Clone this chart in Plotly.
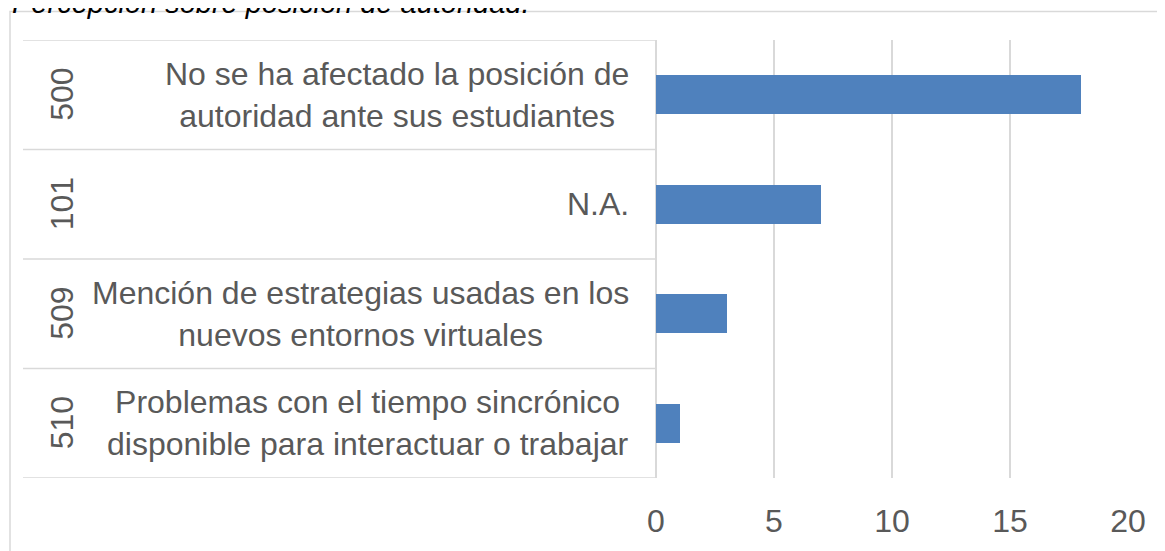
import plotly.graph_objects as go

# ---- data ----
title_text = "Percepción sobre posición de autoridad."
codes = ["500", "101", "509", "510"]
descriptions = [
    "No se ha afectado la posición de<br>autoridad ante sus estudiantes",
    "N.A.",
    "Mención de estrategias usadas en los<br>nuevos entornos virtuales",
    "Problemas con el tiempo sincrónico<br>disponible para interactuar o trabajar",
]
values = [18, 7, 3, 1]
tick_vals = [0, 5, 10, 15, 20]

# ---- layout geometry (window pixels; page body has an 8px default margin) ----
OFF = 8
WIN_W, WIN_H = 1165, 551
W, H = WIN_W - OFF, WIN_H - OFF
PL, PR, PT, PB = 656, 1128, 40, 486  # plot area in window pixels
pw, ph = PR - PL, PB - PT


def px_x(p):
    return (p - PL) / pw


def px_y(p):
    return (PB - p) / ph


FONT = "Liberation Sans, Arial, sans-serif"
TXT = "#595959"
GRID = "#d9d9d9"

fig = go.Figure(
    go.Bar(
        x=values,
        y=codes,
        orientation="h",
        width=0.36,
        marker=dict(color="#4F81BD", line=dict(width=0)),
        hoverinfo="x+y",
    )
)

shapes = []
# separators of the category label area
for i in range(len(codes) + 1):
    shapes.append(
        dict(
            type="line", xref="paper", yref="y",
            x0=px_x(23), x1=0, y0=i - 0.5, y1=i - 0.5,
            line=dict(color=GRID, width=1.5),
        )
    )
# outer chart border
shapes.append(
    dict(
        type="rect", xref="paper", yref="paper",
        x0=px_x(10), x1=px_x(1190), y0=px_y(575), y1=px_y(11),
        line=dict(color=GRID, width=1.5), fillcolor="rgba(0,0,0,0)",
        layer="below",
    )
)

annotations = [
    dict(
        text="<i>" + title_text + "</i>", xref="paper", yref="paper",
        x=px_x(10), y=px_y(21), xanchor="left", yanchor="bottom",
        showarrow=False, font=dict(family=FONT, size=29, color="#000000"),
    )
]
for i, (c, d) in enumerate(zip(codes, descriptions)):
    annotations.append(
        dict(
            text=c, xref="paper", yref="y", x=px_x(62), y=i,
            textangle=-90, showarrow=False, xanchor="center", yanchor="middle",
            font=dict(family=FONT, size=32, color=TXT),
        )
    )
    annotations.append(
        dict(
            text=d, xref="x", yref="y", x=0, y=i, xshift=-25,
            xanchor="right", yanchor="middle", align="center", showarrow=False,
            font=dict(family=FONT, size=32, color=TXT),
        )
    )

fig.update_layout(
    width=W, height=H,
    margin=dict(l=PL - OFF, r=WIN_W - PR, t=PT - OFF, b=WIN_H - PB, pad=0),
    paper_bgcolor="white", plot_bgcolor="white",
    showlegend=False,
    bargap=0,
    xaxis=dict(
        range=[0, 20], tickvals=tick_vals, showgrid=True, gridcolor=GRID,
        gridwidth=1.5, zeroline=True, zerolinecolor=GRID, zerolinewidth=1.5,
        showline=False, ticks="", ticklabelstandoff=21,
        tickfont=dict(family=FONT, size=32, color=TXT), fixedrange=True,
    ),
    yaxis=dict(
        type="category", categoryorder="array", categoryarray=codes,
        range=[len(codes) - 0.5, -0.5], showticklabels=False, showgrid=False,
        zeroline=False, showline=False, ticks="", fixedrange=True,
    ),
    shapes=shapes,
    annotations=annotations,
)

fig.write_html("out.html")
